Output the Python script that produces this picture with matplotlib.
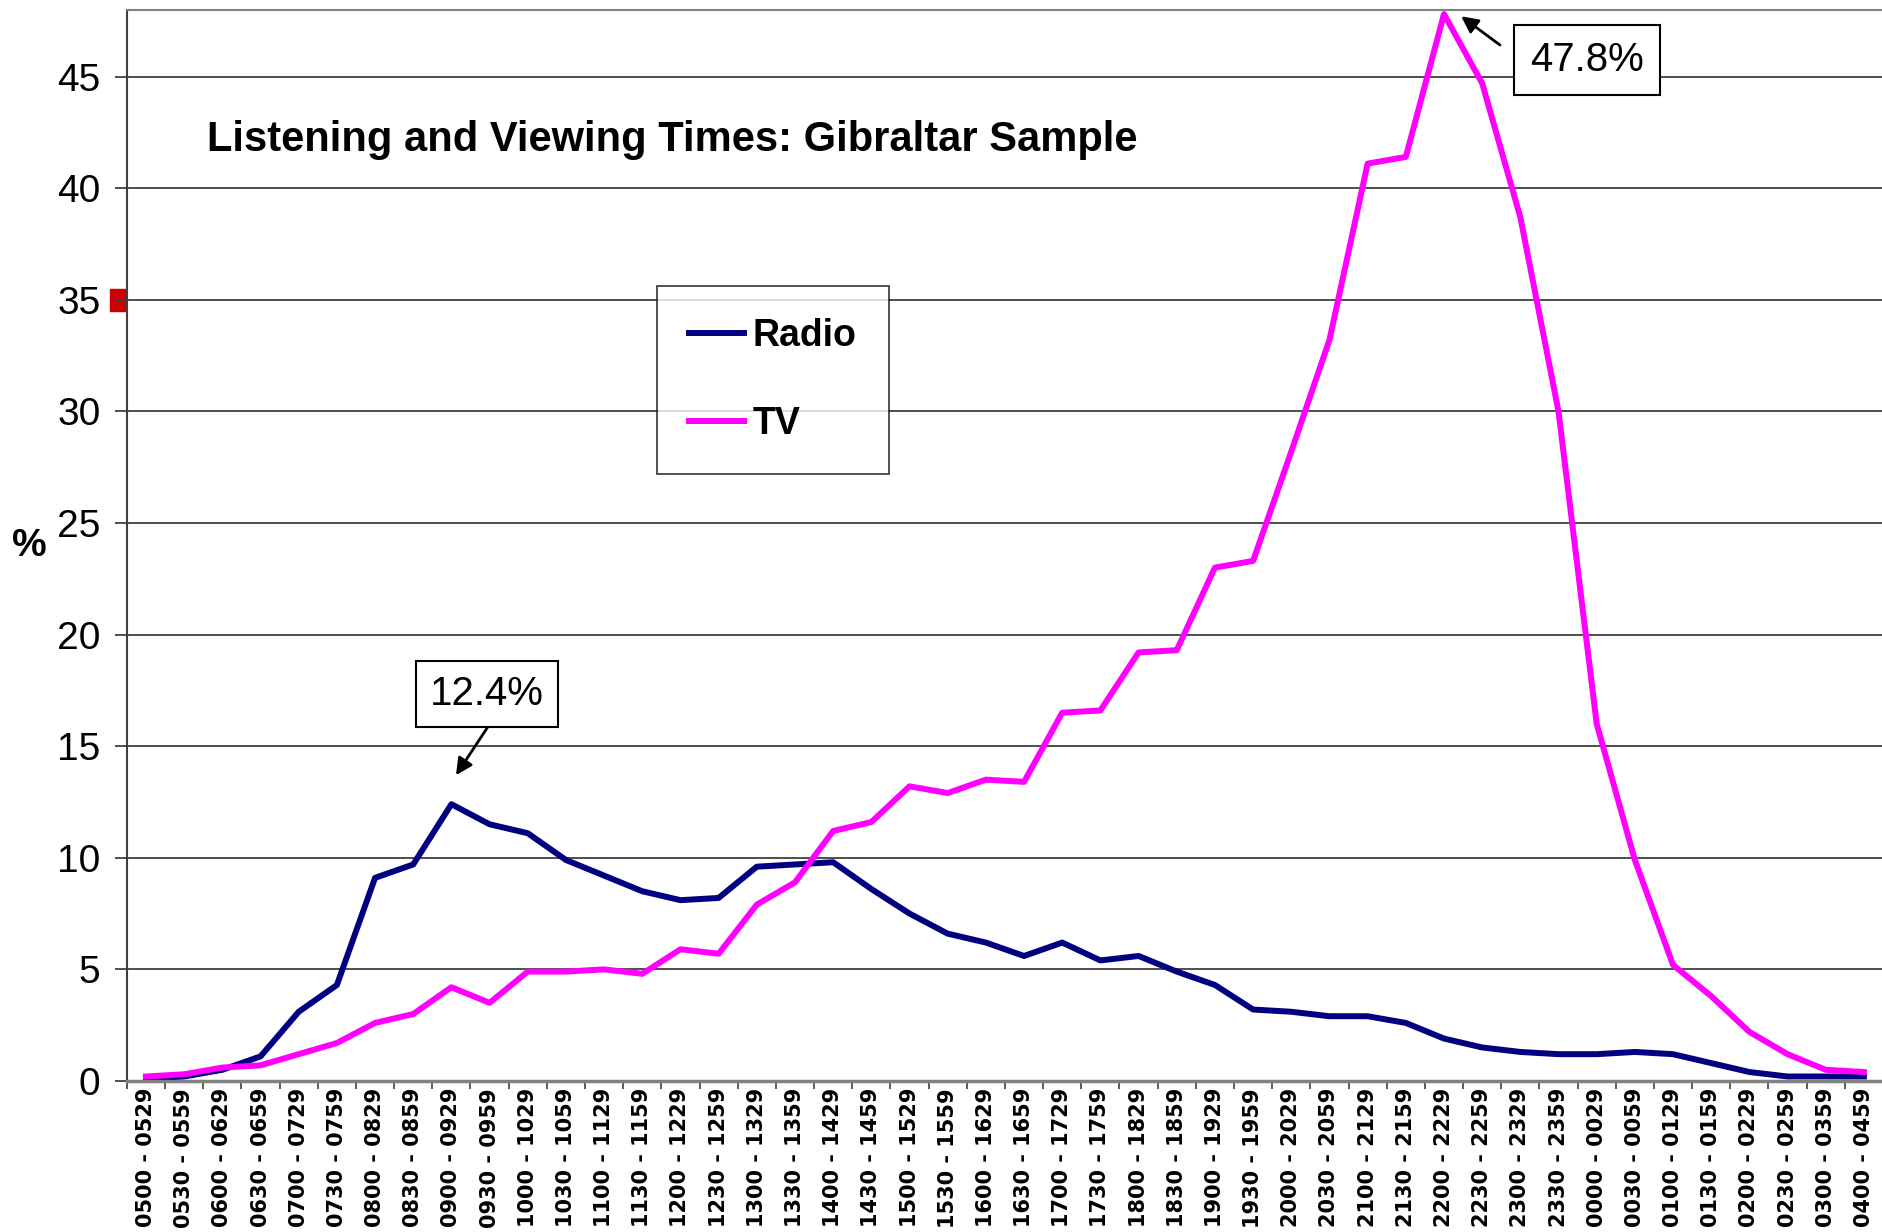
import matplotlib
matplotlib.use("Agg")
import matplotlib.pyplot as plt
from matplotlib.patches import Rectangle

# half-hour slots, last two are one hour each
time_slots = [
    "0500 - 0529", "0530 - 0559", "0600 - 0629", "0630 - 0659",
    "0700 - 0729", "0730 - 0759", "0800 - 0829", "0830 - 0859",
    "0900 - 0929", "0930 - 0959", "1000 - 1029", "1030 - 1059",
    "1100 - 1129", "1130 - 1159", "1200 - 1229", "1230 - 1259",
    "1300 - 1329", "1330 - 1359", "1400 - 1429", "1430 - 1459",
    "1500 - 1529", "1530 - 1559", "1600 - 1629", "1630 - 1659",
    "1700 - 1729", "1730 - 1759", "1800 - 1829", "1830 - 1859",
    "1900 - 1929", "1930 - 1959", "2000 - 2029", "2030 - 2059",
    "2100 - 2129", "2130 - 2159", "2200 - 2229", "2230 - 2259",
    "2300 - 2329", "2330 - 2359", "0000 - 0029", "0030 - 0059",
    "0100 - 0129", "0130 - 0159", "0200 - 0229", "0230 - 0259",
    "0300 - 0359", "0400 - 0459",
]

radio = [
    0.1, 0.2, 0.5, 1.1, 3.1, 4.3, 9.1, 9.7, 12.4, 11.5,
    11.1, 9.9, 9.2, 8.5, 8.1, 8.2, 9.6, 9.7, 9.8, 8.6,
    7.5, 6.6, 6.2, 5.6, 6.2, 5.4, 5.6, 4.9, 4.3, 3.2,
    3.1, 2.9, 2.9, 2.6, 1.9, 1.5, 1.3, 1.2, 1.2, 1.3,
    1.2, 0.8, 0.4, 0.2, 0.2, 0.2,
]

tv = [
    0.2, 0.3, 0.6, 0.7, 1.2, 1.7, 2.6, 3.0, 4.2, 3.5,
    4.9, 4.9, 5.0, 4.8, 5.9, 5.7, 7.9, 8.9, 11.2, 11.6,
    13.2, 12.9, 13.5, 13.4, 16.5, 16.6, 19.2, 19.3, 23.0, 23.3,
    28.2, 33.2, 41.1, 41.4, 47.8, 44.7, 38.7, 30.0, 16.0, 9.9,
    5.2, 3.8, 2.2, 1.2, 0.5, 0.4,
]

y_ticks = [0, 5, 10, 15, 20, 25, 30, 35, 40, 45]

RADIO_COLOR = "#000080"
TV_COLOR = "#FF00FF"
FONT = ["Liberation Sans", "DejaVu Sans"]

plt.rcParams["font.family"] = FONT

fig = plt.figure(figsize=(18.83, 12.32), dpi=100)
ax = fig.add_axes([0.0674, 0.1226, 0.9326, 0.8696])

x = list(range(len(time_slots)))
ax.plot(x, radio, color=RADIO_COLOR, linewidth=4.3, label="Radio")
ax.plot(x, tv, color=TV_COLOR, linewidth=4.3, label="TV")

ax.set_xlim(-0.5, len(time_slots) - 0.5)
ax.set_ylim(0, 48)

# gridlines
for v in y_ticks[1:]:
    ax.axhline(v, color="#404040", linewidth=1.3, zorder=0)

# spines
ax.spines["right"].set_visible(False)
ax.spines["top"].set_color("#808080")
ax.spines["top"].set_linewidth(1.5)
ax.spines["left"].set_color("#404040")
ax.spines["left"].set_linewidth(1.5)
ax.spines["bottom"].set_color("#808080")
ax.spines["bottom"].set_linewidth(2.5)

# y axis
ax.set_yticks(y_ticks)
ax.set_yticklabels([str(v) for v in y_ticks], fontsize=28)
ax.tick_params(axis="y", length=9, width=1.3, pad=10, color="#404040")

# x axis: ticks on the boundaries, labels in the centres
ax.set_xticks([i - 0.5 for i in range(len(time_slots) + 1)])
ax.set_xticklabels([])
ax.set_xticks(x, minor=True)
ax.set_xticklabels(time_slots, minor=True, rotation=90, fontsize=15,
                   fontweight="bold", family="DejaVu Sans")
ax.tick_params(axis="x", which="major", length=6, width=1.2, color="#404040")
ax.tick_params(axis="x", which="minor", length=0, pad=5)

fig.text(0.0154, 0.5568, "%", fontsize=28, fontweight="bold",
         ha="center", va="center")

ax.text(0.0456, 0.878, "Listening and Viewing Times: Gibraltar Sample",
        transform=ax.transAxes, fontsize=30, fontweight="bold",
        ha="left", va="center")

leg = ax.legend(loc="upper left", bbox_to_anchor=(0.302, 0.742),
                prop={"weight": "bold", "size": 27},
                frameon=True, fancybox=False, edgecolor="black",
                borderpad=0.85, labelspacing=1.4, handlelength=1.45,
                handletextpad=0.25, borderaxespad=0)
leg.get_frame().set_linewidth(1.2)
for line in leg.get_lines():
    line.set_linewidth(4.3)

# callouts
radio_peak = radio.index(max(radio))
tv_peak = tv.index(max(tv))
ax.annotate(f"{max(radio):.1f}%", xy=(radio_peak + 0.12, max(radio) + 1.3),
            xytext=(radio_peak + 0.93, max(radio) + 4.95),
            fontsize=29, ha="center", va="center",
            bbox=dict(boxstyle="square,pad=0.35", fc="white", ec="black", lw=1.5),
            arrowprops=dict(arrowstyle="-|>", color="black", lw=2,
                            mutation_scale=25, shrinkA=0, shrinkB=0,
                            relpos=(0.59, 0.0)))
ax.annotate(f"{max(tv):.1f}%", xy=(tv_peak + 0.45, max(tv) - 0.1),
            xytext=(tv_peak + 3.75, max(tv) - 2.05),
            fontsize=29, ha="center", va="center",
            bbox=dict(boxstyle="square,pad=0.4", fc="white", ec="black", lw=1.5),
            arrowprops=dict(arrowstyle="-|>", color="black", lw=2,
                            mutation_scale=25, shrinkA=12, shrinkB=0,
                            relpos=(0.0, 0.3)))

# small red marker beside the 35 tick
ax.add_patch(Rectangle((-0.0097, 34.5), 0.009, 1.0, color="#CC0000",
                       transform=ax.get_yaxis_transform(), clip_on=False))

fig.savefig("out.png", dpi=100)
